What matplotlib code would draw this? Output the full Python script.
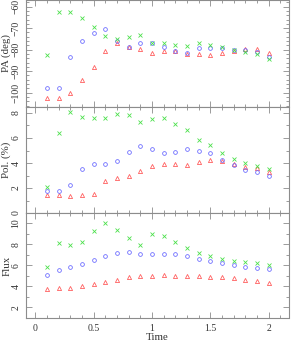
import numpy as np
import matplotlib
matplotlib.use('Agg')
import matplotlib.pyplot as plt
from matplotlib.ticker import MultipleLocator

# ---- data ----
time = [0.1, 0.2, 0.3, 0.4, 0.5, 0.6, 0.7, 0.8, 0.9, 1.0,
        1.1, 1.2, 1.3, 1.4, 1.5, 1.6, 1.7, 1.8, 1.9, 2.0]

pa_green = [-82.5, -62.3, -62.3, -65.4, -69.6, -73.6, -74.9, -74.2, -73.2, -76.9,
            -77.0, -77.8, -78.3, -77.1, -77.8, -78.7, -80.3, -81.2, -82.1, -84.4]
pa_blue = [-98.0, -98.0, -83.3, -75.8, -72.1, -70.5, -75.8, -78.7, -77.0, -77.0,
           -78.6, -80.6, -81.7, -79.3, -79.3, -79.1, -80.1, -80.1, -80.9, -83.5]
pa_red = [-102.6, -102.3, -100.0, -94.1, -87.9, -80.6, -76.7, -78.7, -79.7, -81.4,
          -80.6, -80.5, -81.9, -81.9, -82.6, -81.4, -80.5, -79.8, -79.5, -81.4]

pol_green = [2.10, 6.42, 8.10, 7.65, 7.63, 7.57, 7.92, 7.81, 7.25, 7.55,
             7.57, 7.15, 6.64, 5.87, 5.44, 4.77, 4.32, 3.97, 3.76, 3.49]
pol_blue = [1.79, 1.75, 2.27, 3.49, 3.89, 3.92, 4.13, 4.88, 5.39, 5.09,
            4.77, 4.88, 5.09, 4.96, 4.77, 4.21, 3.84, 3.47, 3.25, 2.96]
pol_red = [1.41, 1.44, 1.33, 1.41, 1.55, 2.53, 2.77, 2.93, 3.36, 3.79,
           3.95, 3.89, 3.84, 4.11, 4.27, 4.13, 3.92, 3.71, 3.57, 3.25]

flux_green = [5.84, 8.10, 7.90, 8.22, 9.27, 10.0, 9.36, 8.57, 7.93, 8.98,
              8.82, 8.19, 7.62, 7.20, 6.89, 6.63, 6.44, 6.28, 6.19, 6.06]
flux_blue = [5.10, 5.52, 5.84, 6.15, 6.53, 6.91, 7.20, 7.23, 7.08, 7.11,
             7.11, 7.05, 6.86, 6.63, 6.41, 6.19, 6.03, 5.87, 5.77, 5.62]
flux_red = [3.78, 3.87, 3.87, 4.00, 4.19, 4.41, 4.63, 4.86, 4.98, 5.01,
            5.04, 5.01, 5.01, 4.98, 4.92, 4.86, 4.76, 4.63, 4.54, 4.35]

plt.rcParams['font.family'] = ['Liberation Serif', 'DejaVu Serif']
plt.rcParams['axes.unicode_minus'] = True

W, H = 291, 341
fig = plt.figure(figsize=(W / 100, H / 100), dpi=100)

frame_col = '#8c8c8c'
text_col = '#333333'
c_green = '#4ce04c'
c_blue = '#6f6fff'
c_red = '#ff6060'

left, right = 26 / W, 288.5 / W
# panel edges in pixels from top
edges = [(0, 107), (107, 213), (213, 318)]
axes = []
for top_px, bot_px in edges:
    ax = fig.add_axes([left, 1 - bot_px / H, right - left, (bot_px - top_px) / H])
    axes.append(ax)

panels = [
    (pa_green, pa_blue, pa_red, (-106.65, -56.9), 10, 2, 'PA (deg)'),
    (pol_green, pol_blue, pol_red, (0, 8.48), 2, 1, 'Pol. (%)'),
    (flux_green, flux_blue, flux_red, (1, 10.98), 2, 1, 'Flux'),
]

for ax, (g, b, r, ylim, major, minor, lab) in zip(axes, panels):
    ax.plot(time, r, linestyle='none', marker='^', markersize=3.0,
            markerfacecolor='none', markeredgecolor=c_red, markeredgewidth=0.6)
    ax.plot(time, b, linestyle='none', marker='o', markersize=2.7,
            markerfacecolor='none', markeredgecolor=c_blue, markeredgewidth=0.6)
    ax.plot(time, g, linestyle='none', marker='x', markersize=2.6,
            markeredgecolor=c_green, markeredgewidth=0.6)
    ax.set_xlim(-0.08, 2.17)
    ax.set_ylim(*ylim)
    ax.xaxis.set_major_locator(MultipleLocator(0.5))
    ax.xaxis.set_minor_locator(MultipleLocator(0.1))
    ax.yaxis.set_major_locator(MultipleLocator(major))
    ax.yaxis.set_minor_locator(MultipleLocator(minor))
    ax.tick_params(which='both', direction='in', top=True, right=True,
                   color=frame_col, width=0.6, labelsize=7, pad=4,
                   labelcolor=text_col)
    ax.tick_params(which='major', length=4)
    ax.tick_params(which='minor', length=2)
    for sp in ax.spines.values():
        sp.set_color(frame_col)
        sp.set_linewidth(0.8)
    for t in ax.get_yticklabels():
        t.set_rotation(90)
        t.set_va('center')
    ax.set_ylabel(lab, fontsize=7.8, color=text_col)
    ax.yaxis.set_label_coords(-0.056, 0.5)

axes[0].tick_params(labelbottom=False)
axes[1].tick_params(labelbottom=False)
axes[2].set_xlabel('Time', fontsize=7.8, labelpad=0, color=text_col)
axes[2].xaxis.set_major_formatter(plt.FuncFormatter(lambda v, p: f'{v:g}'))

fig.savefig('out.png', dpi=100)
